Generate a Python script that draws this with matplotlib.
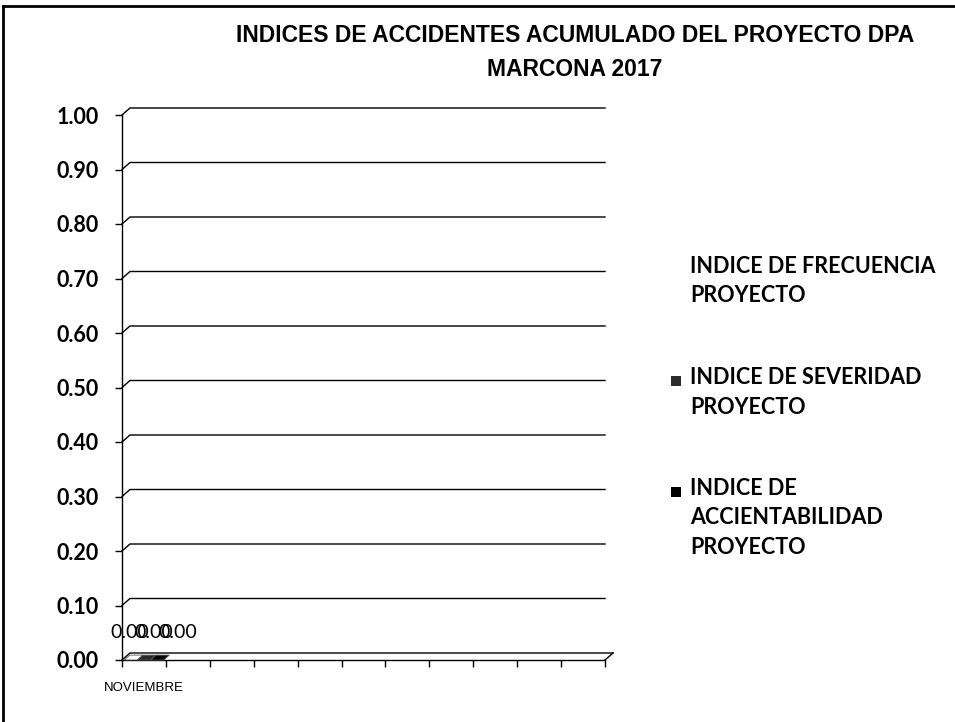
import numpy as np
import matplotlib
matplotlib.use('Agg')
import matplotlib.pyplot as plt
from matplotlib.patches import Polygon, Rectangle
from matplotlib.lines import Line2D

# datos del grafico
meses = ['NOVIEMBRE', '', '', '', '', '', '', '', '', '', '']
series = ['INDICE DE FRECUENCIA\nPROYECTO',
          'INDICE DE SEVERIDAD\nPROYECTO',
          'INDICE DE\nACCIENTABILIDAD\nPROYECTO']
ind_frecuencia = [0.00]
ind_severidad = [0.00]
ind_accidentabilidad = [0.00]
y_ticks = [0.0, 0.1, 0.2, 0.3, 0.4, 0.5, 0.6, 0.7, 0.8, 0.9, 1.0]

colores = ['#ffffff', '#2a2a2a', '#000000']

fig = plt.figure(figsize=(9.55, 7.22), dpi=100)
ax = fig.add_axes([122/955, 62/722, 483/955, 545/722])
n = len(meses)
ax.set_xlim(-0.5, n - 0.5)
ax.set_ylim(0, 1.0)

# desplazamiento "3D" de la pared del fondo (en unidades de datos)
dx = 8 / 483 * n
dy = 7 / 545 * 1.0

# lineas de la cuadricula en la pared del fondo
for y in y_ticks:
    fin = n - 0.5 + (dx if y == 0 else 0)
    ax.plot([-0.5, -0.5 + dx, fin], [y, y + dy, y + dy],
            color='black', lw=1.0, clip_on=False)
# borde derecho del piso
ax.plot([n - 0.5, n - 0.5 + dx], [0, dy], color='black', lw=1.0, clip_on=False)

# columnas (altura cero) y etiquetas de datos
valores = [ind_frecuencia, ind_severidad, ind_accidentabilidad]
ancho = 0.3
for k, vals in enumerate(valores):
    for i, v in enumerate(vals):
        c = i - 0.3 + k * ancho
        x0 = c - ancho / 2
        cara = Polygon([[x0, v], [x0 + ancho, v],
                        [x0 + ancho + dx * 0.7, v + dy * 0.7], [x0 + dx * 0.7, v + dy * 0.7]],
                       closed=True, facecolor=colores[k], edgecolor='#555555', lw=0.6,
                       clip_on=False, zorder=3)
        ax.add_patch(cara)
        ax.text(1.8 * c + 0.22, v + 0.051, '%.2f' % v, ha='center', va='center',
                fontsize=14, family='Lato', color='black')

ax.spines['top'].set_visible(False)
ax.spines['right'].set_visible(False)
ax.spines['left'].set_linewidth(1.0)
ax.spines['bottom'].set_linewidth(1.0)

ax.set_yticks(y_ticks)
ax.set_yticklabels(['%.2f' % t for t in y_ticks], fontsize=15.5, fontweight='bold',
                   family='Lato')
ax.tick_params(axis='y', direction='out', length=5, width=1, pad=12)

ax.set_xticks(np.arange(n))
ax.set_xticklabels(meses, fontsize=9.5, family='Liberation Sans')
ax.set_xticks(np.arange(-0.5, n), minor=True)
ax.tick_params(axis='x', which='major', length=0, pad=16)
ax.tick_params(axis='x', which='minor', direction='out', length=5, width=1)

# titulo
fig.text(575/955, 1 - 35/722, 'INDICES DE ACCIDENTES ACUMULADO DEL PROYECTO DPA',
         ha='center', va='center', fontsize=16.5, fontweight='bold', family='Liberation Sans')
fig.text(575/955, 1 - 70/722, 'MARCONA 2017',
         ha='center', va='center', fontsize=16.5, fontweight='bold', family='Liberation Sans')

# leyenda
leg_y = [270, 381, 492]
for k, nombre in enumerate(series):
    fig.patches.append(Rectangle(((671) / 955, 1 - (leg_y[k] + 5) / 722), 10 / 955, 10 / 722,
                                 facecolor=colores[k], edgecolor='none',
                                 transform=fig.transFigure, figure=fig))
    fig.text(690 / 955, 1 - (leg_y[k] - 14) / 722, nombre, ha='left', va='top',
             fontsize=15.5, fontweight='bold', family='Lato', linespacing=1.5)

# marco exterior
fig.add_artist(Line2D([3/955, 3/955], [0, 1 - 6/722], color='black', lw=2, transform=fig.transFigure))
fig.add_artist(Line2D([3/955, 1], [1 - 6/722, 1 - 6/722], color='black', lw=2, transform=fig.transFigure))

fig.savefig('out.png', dpi=100)
